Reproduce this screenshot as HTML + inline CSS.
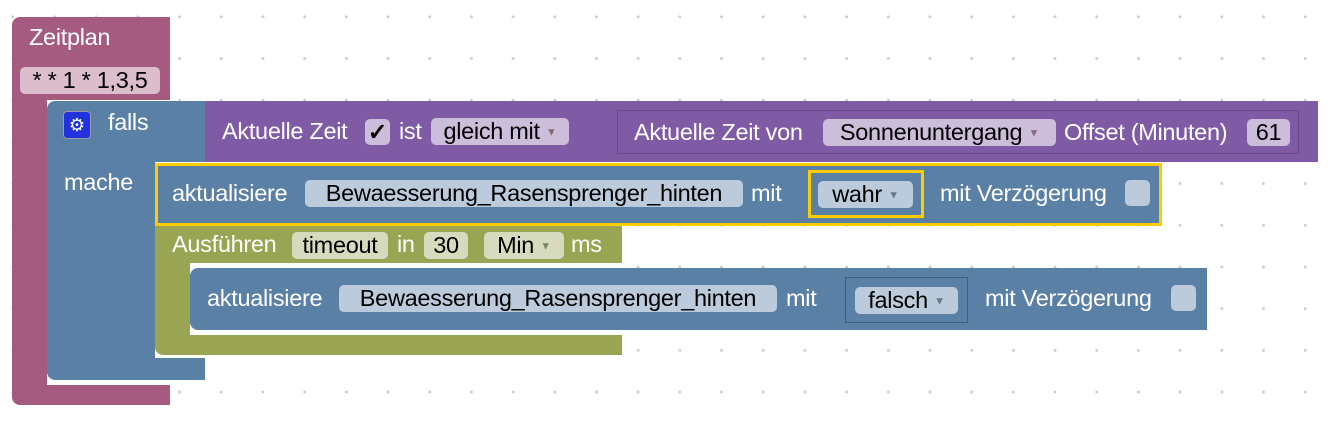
<!DOCTYPE html>
<html><head><meta charset="utf-8"><style>
body{margin:0;width:1336px;height:430px;background:#fff;position:relative;overflow:hidden;font-family:"Liberation Sans",sans-serif;}
.grid{position:absolute;left:0;top:0;width:1336px;height:430px;background-image:radial-gradient(circle,#ccc 1.3px,transparent 1.6px);background-size:41.7px 41.7px;background-position:-8px -4px;}
.b{position:absolute;}
.t{position:absolute;color:#fff;font-size:23.5px;white-space:nowrap;line-height:27px;letter-spacing:-0.3px;}
.f{position:absolute;color:#000;font-size:23.5px;white-space:nowrap;line-height:27px;height:27px;border-radius:5px;text-align:center;letter-spacing:-0.3px;overflow:hidden;}
.fb{background:#bccbdb;}
.fp{background:#ccbddb;}
.fg{background:#d6dbbd;}
.ar{font-size:11px;vertical-align:middle;}
</style></head><body>
<div class="grid"></div>

<!-- Zeitplan -->
<div class="b" style="left:12px;top:17px;width:158px;height:388px;background:#a55b80;border-radius:8px 0 0 8px;"></div>
<div class="b" style="left:47px;top:100px;width:123px;height:285px;background:#fff;"></div>
<div class="t" style="left:29px;top:24px;">Zeitplan</div>
<div class="f" style="left:20px;top:67px;width:140px;background:#dbbdcc;">* * 1 * 1,3,5</div>

<!-- falls block -->
<div class="b" style="left:47px;top:101px;width:158px;height:279px;background:#5b80a5;border-radius:8px 0 0 8px;"></div>
<div class="b" style="left:155px;top:162px;width:50px;height:196px;background:#fff;"></div>
<div class="b" style="left:63px;top:111px;width:26px;height:26px;background:#2233dd;border-radius:4px;border:1px solid #99a;color:#fff;font-size:18px;line-height:26px;text-align:center;">⚙</div>
<div class="t" style="left:108px;top:109px;">falls</div>
<div class="t" style="left:64px;top:169px;">mache</div>

<!-- condition purple -->
<div class="b" style="left:205px;top:101px;width:1113px;height:61px;background:#805ba5;"></div>
<div class="t" style="left:222px;top:118px;">Aktuelle Zeit</div>
<div class="f fp" style="left:365px;top:119px;width:25px;height:26px;font-weight:bold;">✓</div>
<div class="t" style="left:399px;top:118px;">ist</div>
<div class="f fp" style="left:431px;top:118px;width:138px;">gleich mit <span class="ar" style="color:#867">▼</span></div>
<div class="b" style="left:617px;top:110px;width:682px;height:44px;border:1px solid #6a4a8a;box-sizing:border-box;"></div>
<div class="t" style="left:634px;top:119px;">Aktuelle Zeit von</div>
<div class="f fp" style="left:823px;top:119px;width:233px;">Sonnenuntergang <span class="ar" style="color:#867">▼</span></div>
<div class="t" style="left:1064px;top:119px;">Offset (Minuten)</div>
<div class="f fp" style="left:1247px;top:119px;width:43px;">61</div>

<!-- highlighted aktualisiere -->
<div class="b" style="left:155px;top:163px;width:1007px;height:63px;background:#5b80a5;border:3px solid #fc0;box-sizing:border-box;"></div>
<div class="t" style="left:172px;top:180px;">aktualisiere</div>
<div class="f fb" style="left:305px;top:180px;width:438px;">Bewaesserung_Rasensprenger_hinten</div>
<div class="t" style="left:751px;top:180px;">mit</div>
<div class="b" style="left:808px;top:170px;width:116px;height:48px;border:3px solid #fc0;box-sizing:border-box;"></div>
<div class="f fb" style="left:818px;top:181px;width:95px;">wahr <span class="ar" style="color:#678">▼</span></div>
<div class="t" style="left:940px;top:180px;">mit Verzögerung</div>
<div class="f fb" style="left:1125px;top:180px;width:25px;height:26px;"></div>

<!-- green Ausführen -->
<div class="b" style="left:155px;top:226px;width:467px;height:129px;background:#99a552;border-radius:0 0 0 8px;"></div>
<div class="b" style="left:190px;top:263px;width:432px;height:72px;background:#fff;"></div>
<div class="t" style="left:172px;top:231px;">Ausführen</div>
<div class="f fg" style="left:292px;top:232px;width:96px;">timeout</div>
<div class="t" style="left:397px;top:231px;">in</div>
<div class="f fg" style="left:424px;top:232px;width:44px;">30</div>
<div class="f fg" style="left:484px;top:232px;width:80px;">Min <span class="ar" style="color:#786">▼</span></div>
<div class="t" style="left:571px;top:231px;">ms</div>

<!-- inner aktualisiere -->
<div class="b" style="left:190px;top:268px;width:1017px;height:62px;background:#5b80a5;border-radius:8px 0 0 8px;"></div>
<div class="t" style="left:207px;top:285px;">aktualisiere</div>
<div class="f fb" style="left:339px;top:285px;width:438px;">Bewaesserung_Rasensprenger_hinten</div>
<div class="t" style="left:786px;top:285px;">mit</div>
<div class="b" style="left:845px;top:277px;width:123px;height:46px;border:1px solid #3f5f80;box-sizing:border-box;"></div>
<div class="f fb" style="left:855px;top:287px;width:103px;">falsch <span class="ar" style="color:#678">▼</span></div>
<div class="t" style="left:985px;top:285px;">mit Verzögerung</div>
<div class="f fb" style="left:1171px;top:285px;width:25px;height:26px;"></div>
</body></html>
